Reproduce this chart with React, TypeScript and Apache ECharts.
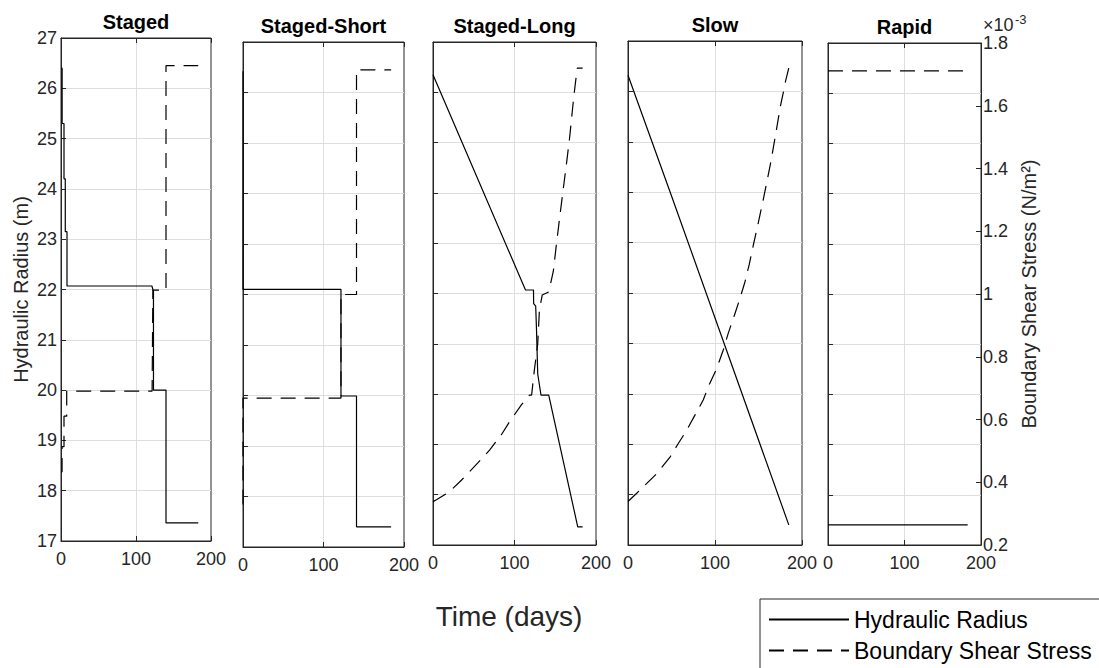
import React, { useEffect, useRef } from 'react';
import * as echarts from 'echarts';

const panelTitles = ['Staged', 'Staged-Short', 'Staged-Long', 'Slow', 'Rapid'];
const seriesNames = ['Hydraulic Radius', 'Boundary Shear Stress'];

// time (days), hydraulic radius (m)
const stagedRadius = [
  [0, 26.4], [1.5, 26.4], [1.5, 25.3], [4, 25.3], [4, 24.2], [5.7, 24.2], [5.7, 23.15],
  [8, 23.15], [8, 22.07], [121.2, 22.07], [123.3, 21.96], [123.3, 20.0], [140, 20.0],
  [140, 17.36], [183, 17.36],
];
// time (days), boundary shear stress (x10^-3 N/m^2)
const stagedStress = [
  [0, 0.42], [1.4, 0.42], [1.4, 0.5], [4, 0.5], [4, 0.597], [7.6, 0.597], [7.6, 0.677],
  [121.5, 0.677], [122.5, 0.998], [140, 0.998], [140, 1.712], [183, 1.712],
];

const shortRadius = [
  [0, 26.42], [0, 22.1], [121.7, 22.1], [121.7, 19.99], [141, 19.99], [141, 17.4], [184, 17.4],
];
const shortStress = [
  [0, 0.335], [0, 0.672], [121.7, 0.672], [121.7, 1.0], [141, 1.0], [141, 1.712], [184, 1.712],
];

const longRadius = [
  [0, 26.35], [113.5, 22.07], [123.3, 22.07], [123.5, 21.8], [126, 21.75], [127, 21.28],
  [128.5, 20.4], [132.5, 19.98], [142, 19.98], [177.6, 17.36], [183.6, 17.36],
];
const longStress = [
  [0, 0.338], [4.2, 0.344], [20.4, 0.37], [34.8, 0.406], [55, 0.461], [69.4, 0.502],
  [83.7, 0.55], [93.9, 0.592], [108.2, 0.645], [118.4, 0.677], [121, 0.677], [124.4, 0.757],
  [128.5, 0.84], [130.6, 0.949], [134, 0.995], [142, 1.005], [147.6, 1.07], [151.1, 1.149],
  [155.1, 1.235], [159.2, 1.32], [163.4, 1.405], [167.4, 1.49], [170.7, 1.574], [172.6, 1.622],
  [174.7, 1.669], [177.1, 1.717], [183.6, 1.717],
];

const slowRadius = [
  [0, 26.32], [48.5, 24.0], [184.8, 17.4],
];
const slowStress = [
  [0, 0.338], [10.3, 0.365], [33.2, 0.427], [48.5, 0.48], [58, 0.523], [67.6, 0.565],
  [77.1, 0.613], [86.6, 0.661], [92.3, 0.703], [101.9, 0.76], [109.5, 0.819], [115.2, 0.872],
  [122.9, 0.934], [128.6, 0.982], [134.4, 1.035], [139.3, 1.09], [143.9, 1.15], [149.6, 1.221],
  [154.6, 1.285], [159.2, 1.347], [163.8, 1.411], [167.6, 1.47], [171.8, 1.538], [175.3, 1.595],
  [179, 1.643], [181.3, 1.675], [184.8, 1.714],
];

const rapidRadius = [
  [0, 17.4], [182.6, 17.4],
];
const rapidStress = [
  [0, 1.711], [182.6, 1.711],
];

const radiusData = [stagedRadius, shortRadius, longRadius, slowRadius, rapidRadius];
const stressData = [stagedStress, shortStress, longStress, slowStress, rapidStress];

const timeRange = [0, 200];
const timeStep = 100;
const radiusRange = [17, 27];
const radiusStep = 1;
const stressRange = [0.2, 1.8];
const stressStep = 0.2;

const FONT = '"Liberation Sans", Arial, Helvetica, sans-serif';
const AXIS = '#262626';
const GRIDC = '#dedede';
const CLEAR = 'rgba(0,0,0,0)';

const gridRects = [
  { left: 61, top: 38, width: 150, height: 503 },
  { left: 243, top: 42, width: 161, height: 505 },
  { left: 433, top: 42, width: 163, height: 503 },
  { left: 628, top: 41, width: 174, height: 504 },
  { left: 828, top: 43, width: 153, height: 502 },
];

function buildOption() {
  const yGridColors = [CLEAR];
  for (let v = radiusRange[0] + radiusStep; v < radiusRange[1]; v += radiusStep) yGridColors.push(GRIDC);
  yGridColors.push(CLEAR);
  const xGridColors = [CLEAR, GRIDC, CLEAR];

  const grid: any[] = [];
  const xAxis: any[] = [];
  const yAxis: any[] = [];
  const series: any[] = [];
  const title: any[] = [];

  gridRects.forEach((g, i) => {
    grid.push({
      ...g,
      show: true,
      borderColor: AXIS,
      borderWidth: 1,
      backgroundColor: '#fff',
      containLabel: false,
    });
    title.push({
      text: panelTitles[i],
      left: g.left + g.width / 2,
      top: g.top - 26,
      textAlign: 'center',
      padding: 0,
      textStyle: { fontSize: 20, fontWeight: 'bold', color: '#000', fontFamily: FONT },
    });
    xAxis.push({
      gridIndex: i,
      type: 'value',
      position: 'bottom',
      min: timeRange[0],
      max: timeRange[1],
      interval: timeStep,
      axisLine: { show: true, onZero: false, lineStyle: { color: AXIS, width: 1 } },
      axisTick: { show: true, inside: true, length: 5, lineStyle: { color: AXIS } },
      axisLabel: { show: true, fontSize: 18, color: AXIS, margin: 9, fontFamily: FONT },
      splitLine: { show: true, lineStyle: { color: xGridColors, width: 1 } },
    });
    xAxis.push({
      gridIndex: i,
      type: 'value',
      position: 'top',
      min: timeRange[0],
      max: timeRange[1],
      interval: timeStep,
      axisLine: { show: true, onZero: false, lineStyle: { color: AXIS, width: 1 } },
      axisTick: { show: true, inside: true, length: 5, lineStyle: { color: AXIS } },
      axisLabel: { show: false },
      splitLine: { show: false },
    });
    yAxis.push({
      gridIndex: i,
      type: 'value',
      position: 'left',
      min: radiusRange[0],
      max: radiusRange[1],
      interval: radiusStep,
      axisLine: { show: true, onZero: false, lineStyle: { color: AXIS, width: 1 } },
      axisTick: { show: true, inside: true, length: 5, lineStyle: { color: AXIS } },
      axisLabel: { show: i === 0, fontSize: 18, color: AXIS, margin: 4, fontFamily: FONT },
      splitLine: { show: true, lineStyle: { color: yGridColors, width: 1 } },
      name: i === 0 ? 'Hydraulic Radius (m)' : '',
      nameLocation: 'middle',
      nameRotate: 90,
      nameGap: 30,
      nameTextStyle: { fontSize: 20, color: AXIS, fontFamily: FONT },
    });
    yAxis.push({
      gridIndex: i,
      type: 'value',
      position: 'right',
      show: i === 4,
      min: stressRange[0],
      max: stressRange[1],
      interval: stressStep,
      axisLine: { show: true, onZero: false, lineStyle: { color: AXIS, width: 1 } },
      axisTick: { show: true, inside: true, length: 5, lineStyle: { color: AXIS } },
      axisLabel: { show: true, fontSize: 18, color: AXIS, margin: 2, fontFamily: FONT },
      splitLine: { show: false },
      name: i === 4 ? 'Boundary Shear Stress (N/m\u00B2)' : '',
      nameLocation: 'middle',
      nameRotate: 90,
      nameGap: 38,
      nameTextStyle: { fontSize: 20, color: AXIS, fontFamily: FONT },
    });
    series.push({
      name: seriesNames[0],
      type: 'line',
      xAxisIndex: 2 * i,
      yAxisIndex: 2 * i,
      data: radiusData[i],
      symbol: 'none',
      showSymbol: false,
      lineStyle: { color: '#000', width: 1.2, type: 'solid' },
      itemStyle: { color: '#000' },
      z: 3,
    });
    series.push({
      name: seriesNames[1],
      type: 'line',
      xAxisIndex: 2 * i,
      yAxisIndex: 2 * i + 1,
      data: stressData[i],
      symbol: 'none',
      showSymbol: false,
      lineStyle: { color: '#000', width: 1.2, type: [15, 9] },
      itemStyle: { color: '#000' },
      z: 3,
    });
  });

  return {
    animation: false,
    backgroundColor: '#fff',
    title,
    grid,
    xAxis,
    yAxis,
    series,
    legend: {
      orient: 'vertical',
      left: 760,
      top: 599,
      height: 120,
      padding: [9, 12, 9, 8],
      itemWidth: 80,
      itemHeight: 14,
      itemGap: 8,
      borderColor: AXIS,
      borderWidth: 1,
      backgroundColor: '#fff',
      selectedMode: false,
      itemStyle: { color: CLEAR, borderWidth: 0, opacity: 0 },
      textStyle: { fontSize: 23, color: '#000', fontFamily: FONT },
      data: seriesNames,
    },
    graphic: [
      {
        type: 'text',
        x: 509,
        y: 616,
        style: {
          text: 'Time (days)',
          font: `28px ${FONT}`,
          fill: AXIS,
          textAlign: 'center',
          textVerticalAlign: 'middle',
          align: 'center',
          verticalAlign: 'middle',
        },
      },
      {
        type: 'text',
        x: 983,
        y: 25,
        style: {
          text: '\u00D710',
          font: `18px ${FONT}`,
          fill: AXIS,
          textAlign: 'left',
          textVerticalAlign: 'middle',
          align: 'left',
          verticalAlign: 'middle',
        },
      },
      {
        type: 'text',
        x: 1015,
        y: 19,
        style: {
          text: '-3',
          font: `13px ${FONT}`,
          fill: AXIS,
          textAlign: 'left',
          textVerticalAlign: 'middle',
          align: 'left',
          verticalAlign: 'middle',
        },
      },
    ],
  };
}

export default function App() {
  const ref = useRef<HTMLDivElement>(null);
  useEffect(() => {
    document.body.style.margin = '0';
    document.body.style.overflow = 'hidden';
    if (!ref.current) return;
    const chart = echarts.init(ref.current, undefined, { renderer: 'svg' });
    chart.setOption(buildOption() as any);
    return () => chart.dispose();
  }, []);
  return <div ref={ref} style={{ width: 1099, height: 668 }} />;
}
